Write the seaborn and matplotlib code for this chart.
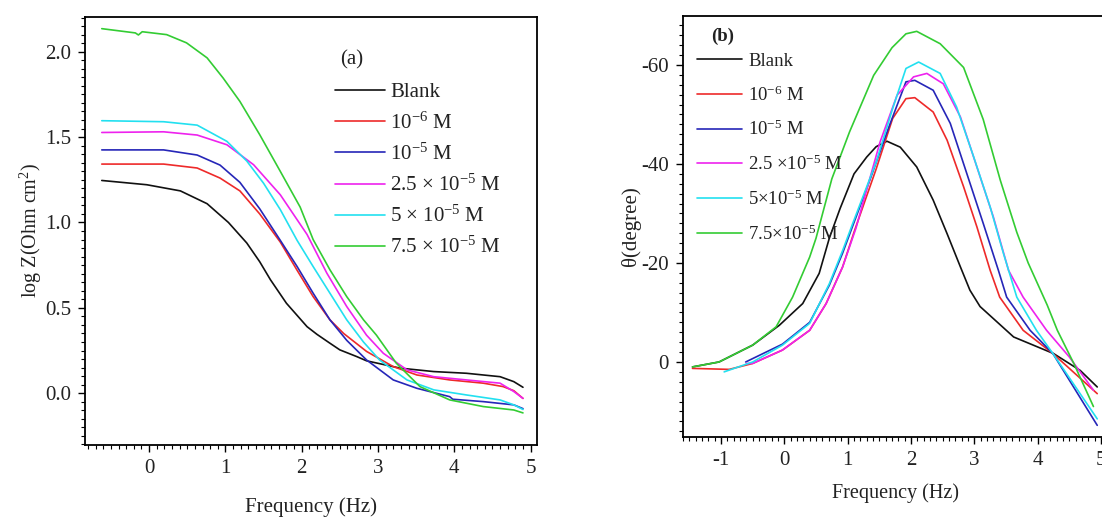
import matplotlib
matplotlib.use("Agg")
import matplotlib.pyplot as plt
import numpy as np
import pandas as pd
import seaborn as sns
from matplotlib.ticker import MultipleLocator, FuncFormatter
from matplotlib.lines import Line2D

# ---------------- data: panel (a)  log Z vs log f ----------------
a_blank_x = [-0.62, -0.03, 0.41, 0.76, 1.04, 1.28, 1.45, 1.59, 1.80, 2.07, 2.20, 2.37, 2.50, 2.72, 2.85, 3.29, 3.73, 4.16, 4.60, 4.78, 4.90]
a_blank_y = [1.246, 1.221, 1.185, 1.11, 1.00, 0.88, 0.77, 0.665, 0.527, 0.39, 0.345, 0.293, 0.254, 0.215, 0.19, 0.147, 0.127, 0.117, 0.097, 0.068, 0.035]

a_m6_x = [-0.62, 0.19, 0.63, 0.93, 1.19, 1.45, 1.72, 1.94, 2.15, 2.37, 2.55, 2.85, 3.20, 3.51, 3.94, 4.38, 4.64, 4.78, 4.90]
a_m6_y = [1.342, 1.342, 1.319, 1.26, 1.185, 1.05, 0.885, 0.72, 0.566, 0.43, 0.35, 0.245, 0.156, 0.107, 0.078, 0.059, 0.039, 0.015, -0.03]

a_m5_x = [-0.62, 0.19, 0.63, 0.93, 1.19, 1.45, 1.72, 1.94, 2.15, 2.37, 2.59, 2.85, 3.20, 3.51, 3.94, 3.98, 4.38, 4.78, 4.90]
a_m5_y = [1.425, 1.425, 1.395, 1.336, 1.235, 1.08, 0.895, 0.742, 0.586, 0.43, 0.31, 0.195, 0.078, 0.029, -0.02, -0.035, -0.049, -0.068, -0.09]

a_m25_x = [-0.62, 0.19, 0.63, 1.02, 1.37, 1.72, 2.07, 2.33, 2.59, 2.85, 3.07, 3.38, 3.73, 4.16, 4.60, 4.78, 4.90]
a_m25_y = [1.527, 1.531, 1.512, 1.455, 1.338, 1.162, 0.93, 0.703, 0.508, 0.34, 0.234, 0.137, 0.097, 0.078, 0.059, 0.01, -0.03]

a_m50_x = [-0.62, 0.19, 0.63, 1.02, 1.28, 1.50, 1.72, 1.94, 2.15, 2.37, 2.59, 2.81, 3.02, 3.38, 3.73, 4.16, 4.60, 4.78, 4.90]
a_m50_y = [1.596, 1.59, 1.57, 1.475, 1.36, 1.23, 1.075, 0.895, 0.742, 0.586, 0.43, 0.30, 0.195, 0.078, 0.02, -0.01, -0.039, -0.068, -0.095]

a_m75_x = [-0.62, -0.18, -0.14, -0.09, 0.23, 0.49, 0.76, 0.97, 1.19, 1.45, 1.72, 1.98, 2.15, 2.37, 2.59, 2.81, 2.98, 3.24, 3.55, 3.94, 4.38, 4.78, 4.90]
a_m75_y = [2.135, 2.11, 2.098, 2.117, 2.10, 2.052, 1.964, 1.846, 1.709, 1.514, 1.299, 1.09, 0.90, 0.723, 0.566, 0.43, 0.34, 0.176, 0.039, -0.039, -0.078, -0.098, -0.115]

# ---------------- data: panel (b)  phase angle vs log f ----------------
b_blank_x = [-1.45, -1.03, -0.5, -0.08, 0.29, 0.55, 0.71, 0.88, 1.10, 1.30, 1.45, 1.62, 1.83, 2.09, 2.35, 2.57, 2.78, 2.93, 3.09, 3.62, 4.25, 4.67, 4.94]
b_blank_y = [1.0, 0.0, -3.4, -7.4, -11.8, -17.9, -25.0, -31.0, -38.0, -41.4, -43.5, -44.6, -43.4, -39.4, -32.7, -25.9, -19.2, -14.5, -11.2, -5.05, -1.7, 1.7, 5.05]

b_m6_x = [-1.45, -0.87, -0.5, -0.03, 0.4, 0.66, 0.92, 1.11, 1.45, 1.71, 1.92, 2.06, 2.35, 2.57, 2.83, 3.04, 3.25, 3.40, 3.77, 4.24, 4.94]
b_m6_y = [1.3, 1.5, 0.3, -2.4, -6.4, -11.8, -19.2, -26.6, -39.0, -49.2, -53.2, -53.4, -50.5, -44.8, -35.4, -27.3, -18.5, -13.1, -6.4, -1.7, 6.4]

b_m5_x = [-0.61, -0.03, 0.4, 0.71, 0.92, 1.08, 1.34, 1.66, 1.92, 2.06, 2.35, 2.62, 2.88, 3.14, 3.38, 3.51, 3.88, 4.24, 4.94]
b_m5_y = [0.0, -3.6, -8.0, -15.5, -22.0, -27.5, -36.4, -47.8, -56.6, -56.9, -54.9, -48.2, -38.1, -28.0, -18.5, -13.1, -6.4, -1.7, 12.8]

b_m25_x = [-0.6, -0.5, -0.03, 0.4, 0.66, 0.92, 1.13, 1.51, 1.78, 2.04, 2.25, 2.51, 2.78, 3.04, 3.30, 3.54, 3.77, 4.14, 4.5, 4.88]
b_m25_y = [0.3, 0.3, -2.4, -6.4, -11.8, -19.2, -27.0, -44.4, -53.9, -57.6, -58.3, -56.2, -49.5, -39.4, -29.3, -18.5, -13.1, -6.4, -1.0, 5.7]

b_m50_x = [-0.95, -0.5, -0.03, 0.4, 0.71, 0.92, 1.08, 1.45, 1.71, 1.92, 2.12, 2.46, 2.72, 2.99, 3.25, 3.46, 3.67, 3.98, 4.24, 4.94]
b_m50_y = [2.0, 0.0, -3.4, -7.8, -15.8, -22.5, -28.0, -40.4, -51.2, -59.3, -60.6, -58.3, -51.5, -41.4, -31.3, -21.9, -13.1, -6.4, -1.7, 11.5]

b_m75_x = [-1.45, -1.03, -0.5, -0.13, 0.13, 0.4, 0.5, 0.75, 1.03, 1.41, 1.7, 1.92, 2.09, 2.46, 2.83, 3.14, 3.41, 3.67, 3.85, 4.15, 4.31, 4.57, 4.88]
b_m75_y = [1.0, 0.0, -3.4, -7.1, -13.1, -21.2, -25.0, -37.0, -46.5, -57.9, -63.5, -66.3, -66.8, -64.3, -59.5, -49.0, -36.7, -26.2, -20.0, -11.5, -6.4, 0.3, 9.0]

series_keys = ["blank", "m6", "m5", "m25", "m50", "m75"]
labels_a = ["Blank", "10$^{-6}$ M", "10$^{-5}$ M", "2.5 \u00d7 10$^{-5}$ M",
            "5 \u00d7 10$^{-5}$ M", "7.5 \u00d7 10$^{-5}$ M"]
labels_b = ["Blank", "10$^{-6}$ M", "10$^{-5}$ M", "2.5 \u00d710$^{-5}$ M",
            "5\u00d710$^{-5}$ M", "7.5\u00d710$^{-5}$ M"]
colors = ["#111111", "#ee2a2a", "#2626b8", "#ee22ee", "#22e0f0", "#33cc33"]

xs_a = [a_blank_x, a_m6_x, a_m5_x, a_m25_x, a_m50_x, a_m75_x]
ys_a = [a_blank_y, a_m6_y, a_m5_y, a_m25_y, a_m50_y, a_m75_y]
xs_b = [b_blank_x, b_m6_x, b_m5_x, b_m25_x, b_m50_x, b_m75_x]
ys_b = [b_blank_y, b_m6_y, b_m5_y, b_m25_y, b_m50_y, b_m75_y]


def long_frame(xs, ys):
    parts = []
    for k, x, y in zip(series_keys, xs, ys):
        parts.append(pd.DataFrame({"freq": x, "val": y, "series": k}))
    return pd.concat(parts, ignore_index=True)


df_a = long_frame(xs_a, ys_a)
df_b = long_frame(xs_b, ys_b)
palette = dict(zip(series_keys, colors))

sns.set_theme(style="ticks")
plt.rcParams["font.family"] = ["Liberation Serif", "DejaVu Serif"]
plt.rcParams["mathtext.fontset"] = "custom"
plt.rcParams["mathtext.rm"] = "Liberation Serif"
plt.rcParams["mathtext.it"] = "Liberation Serif:italic"
plt.rcParams["mathtext.bf"] = "Liberation Serif:bold"
plt.rcParams["axes.unicode_minus"] = False

fig = plt.figure(figsize=(11.02, 5.17), dpi=100)
W, H = 1102.0, 517.0
ax1 = fig.add_axes([85 / W, (H - 445) / H, 451.7 / W, 428.3 / H])
ax2 = fig.add_axes([683 / W, (H - 436.7) / H, 425 / W, 420.7 / H])

for ax, df in ((ax1, df_a), (ax2, df_b)):
    sns.lineplot(data=df, x="freq", y="val", hue="series", palette=palette,
                 estimator=None, sort=False, linewidth=1.2, legend=False, ax=ax)
    for sp in ax.spines.values():
        sp.set_color("black")
        sp.set_linewidth(1.3)
    ax.tick_params(which="both", direction="out", top=False, right=False,
                   colors="black", labelcolor="#222222")
    ax.tick_params(which="major", length=5, width=1.0, labelsize=15, pad=5)
    ax.tick_params(which="minor", length=3, width=0.8)

# ---- panel (a)
ax1.set_xlim(-0.84, 5.08)
ax1.set_ylim(-0.303, 2.205)
ax1.xaxis.set_major_locator(MultipleLocator(1))
ax1.xaxis.set_minor_locator(MultipleLocator(0.1))
ax1.yaxis.set_major_locator(MultipleLocator(0.5))
ax1.yaxis.set_minor_locator(MultipleLocator(0.05))
ax1.yaxis.set_major_formatter(FuncFormatter(lambda v, p: f"{v:.1f}"))
ax1.xaxis.set_major_formatter(FuncFormatter(lambda v, p: f"{v:.0f}"))
ax1.set_xlabel("Frequency (Hz)", fontsize=15, color="#222222", labelpad=14)
ax1.set_ylabel("log Z(Ohm cm$^2$)", fontsize=14.5, color="#222222", labelpad=1)
ax1.text(0.59, 0.90, "(a)", transform=ax1.transAxes, fontsize=15,
         ha="center", va="center", color="#222222")
handles = [Line2D([0], [0], color=c, lw=1.2) for c in colors]
ax1.legend(handles, labels_a, loc="upper left", bbox_to_anchor=(0.553, 0.846),
           frameon=False, fontsize=15, handlelength=2.4, handletextpad=0.27,
           labelspacing=0.48, borderpad=0, borderaxespad=0, labelcolor="#222222")

# ---- panel (b)
ax2.set_xlim(-1.6, 5.11)
ax2.set_ylim(15.1, -69.9)
ax2.xaxis.set_major_locator(MultipleLocator(1))
ax2.xaxis.set_minor_locator(MultipleLocator(0.1))
ax2.yaxis.set_major_locator(MultipleLocator(20))
ax2.yaxis.set_minor_locator(MultipleLocator(2))
ax2.yaxis.set_major_formatter(FuncFormatter(lambda v, p: f"{v:.0f}"))
ax2.xaxis.set_major_formatter(FuncFormatter(lambda v, p: f"{v:.0f}"))
ax2.set_xlabel("Frequency (Hz)", fontsize=14.5, color="#222222", labelpad=10)
ax2.set_ylabel("\u03b8(degree)", fontsize=15, color="#222222", labelpad=0)
ax2.text(0.094, 0.952, "(b)", transform=ax2.transAxes, fontsize=13.5,
         fontweight="bold", ha="center", va="center", color="#222222")
ax2.legend(handles, labels_b, loc="upper left", bbox_to_anchor=(0.032, 0.913),
           frameon=False, fontsize=13.5, handlelength=2.4, handletextpad=0.35,
           labelspacing=0.82, borderpad=0, borderaxespad=0, labelcolor="#222222")

fig.savefig("out.png", dpi=100)
